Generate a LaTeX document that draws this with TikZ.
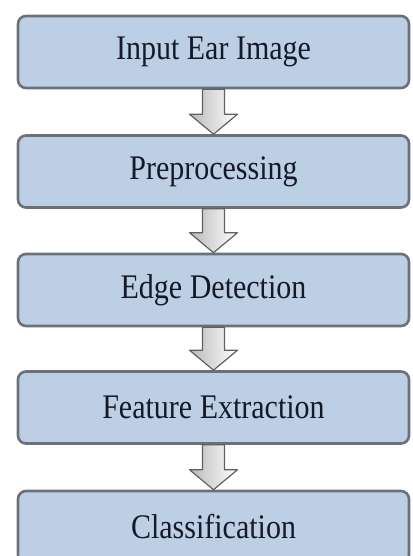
\documentclass[tikz,border=0pt]{standalone}
\usepackage{fontspec}
\setmainfont{Liberation Serif}
\usetikzlibrary{calc}

\definecolor{boxfill}{RGB}{189,207,229}
\definecolor{boxline}{RGB}{108,113,121}
\definecolor{boxtext}{RGB}{22,26,40}

\begin{document}
\begin{tikzpicture}
[x=1pt,y=1pt,
 stage/.style={draw=boxline,line width=2.6pt,fill=boxfill,rounded corners=8pt,
   minimum width=391pt,minimum height=72pt,inner sep=0pt,text=boxtext,
   font=\fontsize{30}{33}\selectfont},
 arrowbody/.style={draw=gray!75!black,line width=1.2pt,left color=gray!55,right color=white,
   line join=round},]

%Size of the picture
\useasboundingbox (0,0) rectangle (412,-556);

%Arrow measures
\def\shaftw{11}
\def\headw{24}
\def\headl{20}

%Stretched text
\def\st#1{\scalebox{1}[1.15]{#1}}

%Stages
\node (input) at (213.5,-52)[stage] {\st{Input Ear Image}};
\node (pre) at (213.5,-171.5)[stage] {\st{Preprocessing}};
\node (edge) at (213.5,-290)[stage] {\st{Edge Detection}};
\node (feat) at (213.5,-407.5)[stage] {\st{Feature Extraction}};
\node (cls) at (213.5,-527)[stage] {\st{Classification}};

%Block arrows between the stages
\def\flowarrow#1#2{\draw[arrowbody] ($(#1.south)+(-\shaftw,0)$) -- ($(#2.north)+(-\shaftw,\headl)$)
  -- ($(#2.north)+(-\headw,\headl)$) -- (#2.north) -- ($(#2.north)+(\headw,\headl)$)
  -- ($(#2.north)+(\shaftw,\headl)$) -- ($(#1.south)+(\shaftw,0)$) -- cycle;}

\flowarrow{input}{pre}
\flowarrow{pre}{edge}
\flowarrow{edge}{feat}
\flowarrow{feat}{cls}

\end{tikzpicture}
\end{document}
